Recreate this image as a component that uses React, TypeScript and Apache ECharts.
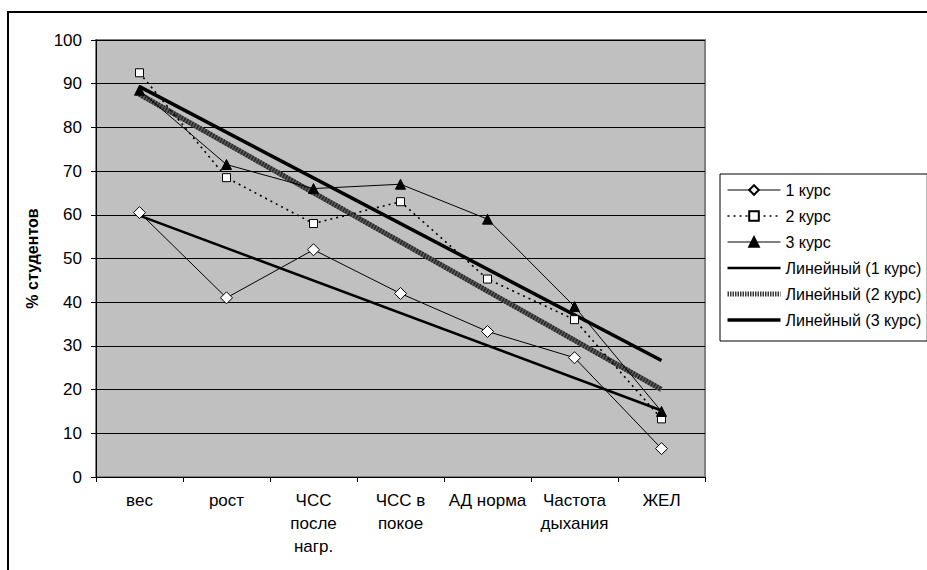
import React, { useEffect, useRef } from "react";
import * as echarts from "echarts";

const categories = ["вес", "рост", "ЧСС\nпосле\nнагр.", "ЧСС в\nпокое", "АД норма", "Частота\nдыхания", "ЖЕЛ"];
const course1 = [60.5, 41, 52, 42, 33.3, 27.3, 6.5];
const course2 = [92.5, 68.5, 58, 63, 45.3, 36, 13.3];
const course3 = [88.5, 71.5, 66, 67, 59, 39, 15];
const seriesNames = ["1 курс", "2 курс", "3 курс"];
const trendNames = ["Линейный (1 курс)", "Линейный (2 курс)", "Линейный (3 курс)"];
const yTicks = { min: 0, max: 100, interval: 10 };

// Least-squares linear trend (as Excel's "Линейный" trendline) evaluated at first and last category
function trend(values: number[]): [number, number][] {
  const n = values.length;
  const xs = values.map((_, i) => i + 1);
  const mx = xs.reduce((a, b) => a + b, 0) / n;
  const my = values.reduce((a, b) => a + b, 0) / n;
  let sxy = 0, sxx = 0;
  for (let i = 0; i < n; i++) {
    sxy += (xs[i] - mx) * (values[i] - my);
    sxx += (xs[i] - mx) * (xs[i] - mx);
  }
  const b = sxy / sxx;
  const a = my - b * mx;
  return [[0, a + b * 1], [n - 1, a + b * n]];
}

const FONT = "'Liberation Sans', Arial, sans-serif";
const FS = 17;

export default function App() {
  const ref = useRef<HTMLDivElement>(null);
  useEffect(() => {
    if (!ref.current) return;
    const chart = echarts.init(ref.current, undefined, { renderer: "svg" });
    const thin = (name: string, data: number[], symbol: string, size: number, fill: string, lineType: any) => ({
      name,
      type: "line",
      data,
      symbol,
      symbolSize: size,
      showSymbol: true,
      z: 5,
      lineStyle: { color: "#000", width: lineType === "solid" ? 1 : 1.6, type: lineType },
      itemStyle: { color: fill, borderColor: "#000", borderWidth: 1 },
      emphasis: { disabled: true },
    });
    const tr = (name: string, data: number[], color: string, width: number, type: any, z = 3) => ({
      name,
      type: "line",
      data: trend(data),
      symbol: "none",
      z,
      lineStyle: { color, width, type },
      itemStyle: { color, opacity: 0 },
      emphasis: { disabled: true },
    });
    chart.setOption({
      animation: false,
      textStyle: { fontFamily: FONT },
      graphic: [
        {
          type: "rect",
          shape: { x: 8, y: 12, width: 1000, height: 1000 },
          style: { fill: "none", stroke: "#000", lineWidth: 2 },
          silent: true,
        },
      ],
      grid: {
        left: 96,
        right: 222,
        top: 40,
        bottom: 93,
        show: true,
        backgroundColor: "#c0c0c0",
        borderColor: "#808080",
        borderWidth: 2,
      },
      legend: {
        left: 720,
        top: 174,
        orient: "vertical",
        itemWidth: 53,
        itemHeight: 12,
        itemGap: 10,
        padding: [8, 6, 13, 5],
        borderColor: "#000",
        borderWidth: 1,
        textStyle: { color: "#000", fontSize: 16, fontFamily: FONT },
        data: [
          { name: seriesNames[0], lineStyle: { width: 1 } },
          { name: seriesNames[1], lineStyle: { width: 1.6 } },
          { name: seriesNames[2], lineStyle: { width: 1 } },
          { name: trendNames[0], itemStyle: { opacity: 0 }, lineStyle: { width: 2.5, color: "#000" } },
          { name: trendNames[1], itemStyle: { opacity: 0 }, lineStyle: { width: 5, color: "#3a3a3a", type: [1.5, 1] } },
          { name: trendNames[2], itemStyle: { opacity: 0 }, lineStyle: { width: 3.5, color: "#000" } },
        ],
        selectedMode: false,
      },
      xAxis: {
        type: "category",
        data: categories,
        boundaryGap: true,
        axisLine: { lineStyle: { color: "#000", width: 1 } },
        axisTick: { show: true, length: 5, interval: 0, lineStyle: { color: "#000" } },
        axisLabel: { color: "#000", fontSize: FS, lineHeight: 23, margin: 12, interval: 0, fontFamily: FONT },
      },
      yAxis: {
        type: "value",
        min: yTicks.min,
        max: yTicks.max,
        interval: yTicks.interval,
        name: "% студентов",
        nameLocation: "middle",
        nameRotate: 90,
        nameGap: 56,
        nameTextStyle: { color: "#000", fontSize: 16, fontWeight: "bold", fontFamily: FONT },
        axisLine: { show: true, lineStyle: { color: "#000", width: 1 } },
        axisTick: { show: true, length: 5, lineStyle: { color: "#000" } },
        axisLabel: { color: "#000", fontSize: FS, margin: 14, fontFamily: FONT },
        splitLine: { show: true, lineStyle: { color: "#000", width: 1 } },
      },
      series: [
        thin(seriesNames[0], course1, "diamond", 12, "#fff", "solid"),
        thin(seriesNames[1], course2, "rect", 8, "#fff", [2, 4]),
        thin(seriesNames[2], course3, "triangle", 10, "#000", "solid"),
        tr(trendNames[0], course1, "#000", 2.5, "solid"),
        tr(trendNames[1], course2, "#5e5e5e", 5, "solid"),
        tr("__hatch2", course2, "#262626", 5, [1.5, 1.5], 4),
        tr(trendNames[2], course3, "#000", 3.5, "solid"),
      ],
    });
    return () => chart.dispose();
  }, []);
  return (
    <div
      ref={ref}
      style={{ position: "fixed", left: 0, top: 0, width: 927, height: 570, background: "#fff" }}
    />
  );
}
